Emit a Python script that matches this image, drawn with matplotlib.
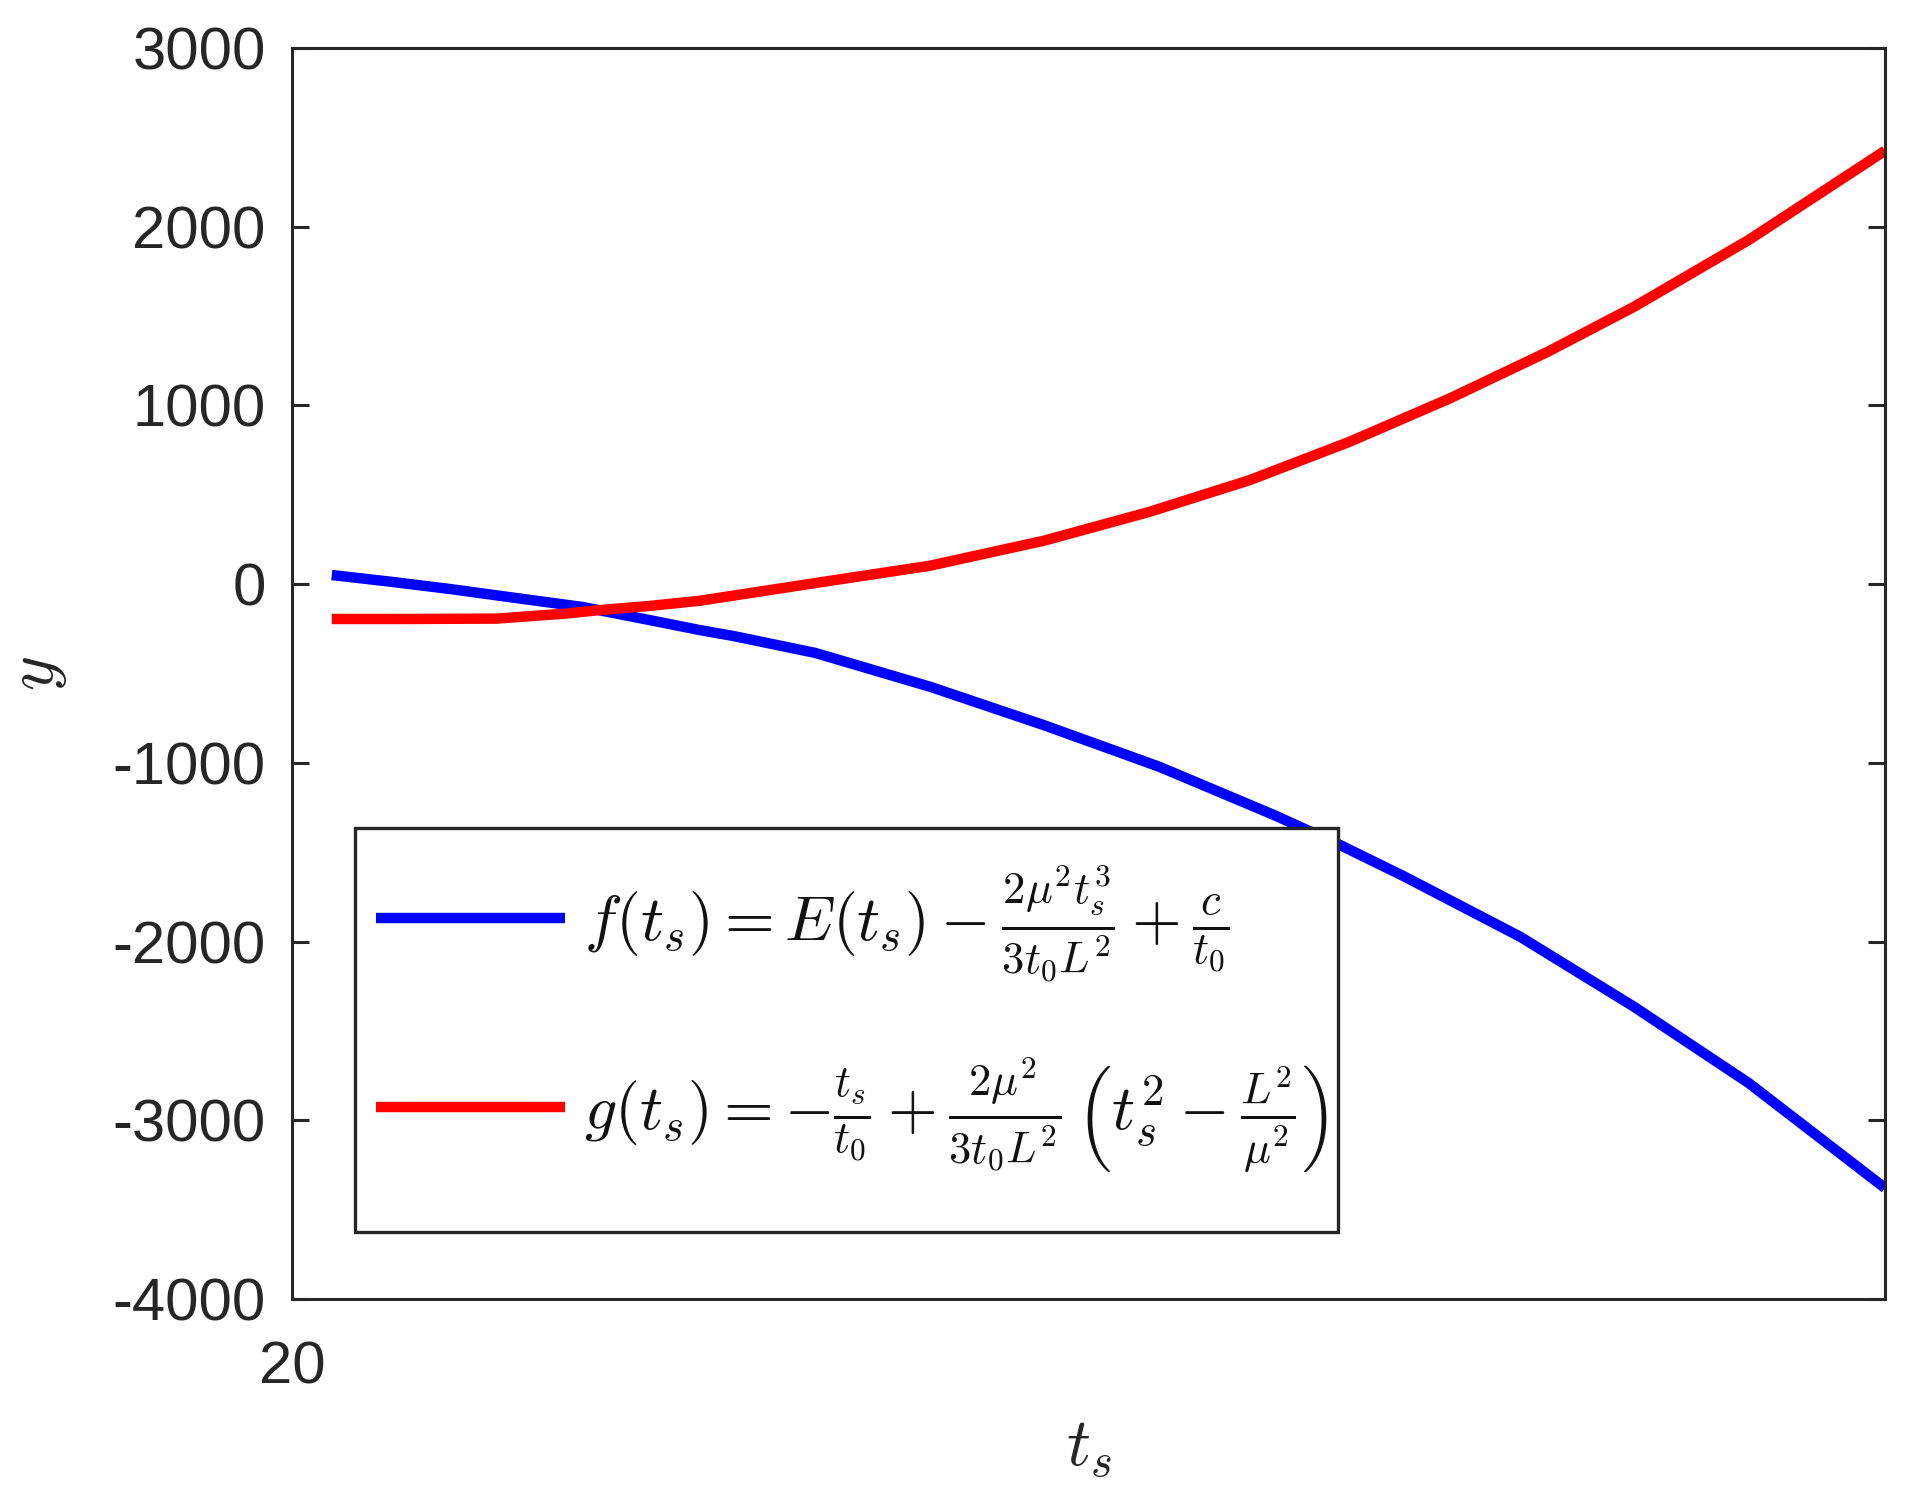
import matplotlib
matplotlib.use("Agg")
import matplotlib.pyplot as plt
from matplotlib.patches import Rectangle
from matplotlib.transforms import Bbox, TransformedBbox

plt.rcParams['font.family'] = ['Liberation Sans', 'DejaVu Sans']
plt.rcParams['mathtext.fontset'] = 'cm'
plt.rcParams['axes.unicode_minus'] = False

# ---- data ----
t_f = [20.50, 21.23, 21.98, 22.82, 23.65, 24.49, 25.12, 25.54, 26.57, 28.01,
       29.44, 30.89, 32.33, 33.16, 33.97, 35.42, 36.85, 38.29, 40.00]
f_vals = [51, 14, -27, -78, -128, -201, -257, -290, -385, -574,
          -789, -1022, -1292, -1460, -1637, -1973, -2365, -2792, -3379]

t_g = [20.50, 21.36, 22.57, 23.43, 23.87, 24.49, 25.12, 26.57, 28.01, 29.44,
       30.77, 32.03, 33.28, 34.54, 35.77, 36.85, 38.29, 40.00]
g_vals = [-195, -195, -193, -165, -145, -122, -93, 6, 103, 243,
          405, 583, 797, 1040, 1301, 1552, 1926, 2425]

y_ticks = [-4000, -3000, -2000, -1000, 0, 1000, 2000, 3000]
x_ticks = [20]

label_f = r'$f(t_s) = E(t_s) - \frac{2\mu^2 t_s^3}{3t_0 L^2} + \frac{c}{t_0}$'
label_g = r'$g(t_s) = -\frac{t_s}{t_0} + \frac{2\mu^2}{3t_0 L^2}\,\left(t_s^2 - \frac{L^2}{\mu^2}\right)^{\frac{3}{2}}$'

# ---- figure ----
fig = plt.figure(figsize=(19.07, 14.98), dpi=100)
ax = fig.add_axes([0.1531, 0.1328, 0.9885 - 0.1531, 0.968 - 0.1328])

ax.plot(t_f, f_vals, color='#0000ff', lw=7.5, label=label_f,
        solid_joinstyle='round', solid_capstyle='butt')
ax.plot(t_g, g_vals, color='#ff0000', lw=7.5, label=label_g,
        solid_joinstyle='round', solid_capstyle='butt')

ax.set_xlim(20, 40)
ax.set_ylim(-4000, 3000)
ax.set_yticks(y_ticks)
ax.set_xticks(x_ticks)
ax.set_xticklabels([str(v) for v in x_ticks])

dark = '#262626'
for s in ax.spines.values():
    s.set_linewidth(2.2)
    s.set_color(dark)
ax.tick_params(axis='y', direction='in', length=12, width=2.2, right=True,
               labelsize=43, pad=19, colors=dark)
ax.tick_params(axis='x', direction='in', length=0, labelsize=43, pad=30, colors=dark)

ax.set_xlabel(r'$t_s$', fontsize=48, color=dark)
ax.set_ylabel(r'$y$', fontsize=48, color=dark)
ax.xaxis.set_label_coords(0.5, -0.095)
ax.yaxis.set_label_coords(-0.14, 0.5)

# legend frame drawn as rectangle, legend content without its own frame
x0, x1, y0, y1 = 0.0395, 0.6566, 0.0536, 0.3765
frame = Rectangle((x0, y0), x1 - x0, y1 - y0, transform=ax.transAxes,
                  facecolor='white', edgecolor=dark, lw=2.4, zorder=4)
ax.add_patch(frame)
leg = ax.legend(loc='upper left', bbox_to_anchor=(0.037, 0.369), frameon=False,
                fontsize=46, handlelength=2.95, handletextpad=0.3,
                labelspacing=1.11, borderaxespad=0)
leg.set_zorder(5)
for ln in leg.get_lines():
    ln.set_linewidth(7.5)
clipbox = TransformedBbox(Bbox([[x0, y0], [x1, y1]]), ax.transAxes)
for txt in leg.get_texts():
    txt.set_color('#111111')
    txt.set_clip_box(clipbox)
    txt.set_clip_on(True)

fig.savefig('out.png', dpi=100, facecolor='white')
